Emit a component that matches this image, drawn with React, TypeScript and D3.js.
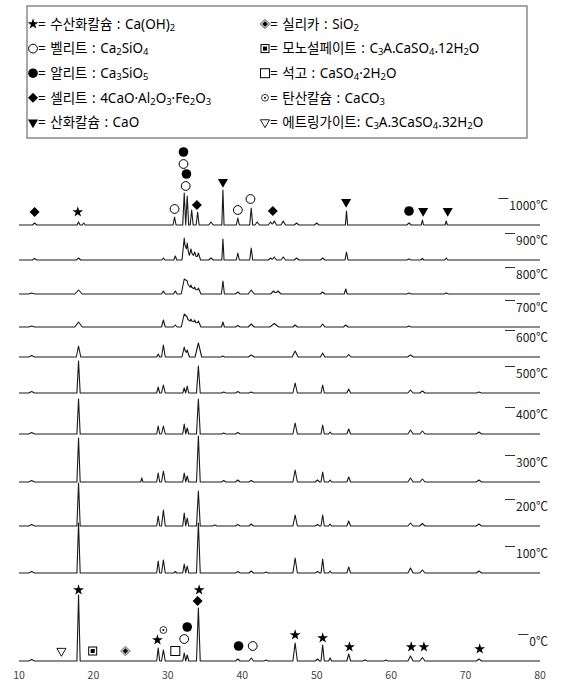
import React, { useRef, useEffect } from "react";
import * as d3 from "d3";

// stacked XRD patterns, 2theta 10..80
const temps = [0, 100, 200, 300, 400, 500, 600, 700, 800, 900, 1000];
const offsets = [0, 88, 135, 179, 227, 268, 304, 334, 367, 401, 436];
const xTicks = [10, 20, 30, 40, 50, 60, 70, 80];

// [angle, height, half width]
const peaks0 = [[11.7, 1.5, 0.4], [18.0, 66, 0.22], [28.7, 13, 0.2], [29.4, 11, 0.25], [32.2, 8, 0.2], [32.6, 6, 0.2], [34.1, 53, 0.25], [39.4, 2, 0.3], [41.2, 3, 0.3], [43.2, 1, 0.3], [47.1, 18, 0.3], [50.1, 2, 0.3], [50.8, 16, 0.22], [51.8, 3, 0.2], [54.3, 7, 0.25], [56.5, 1, 0.3], [59.3, 1, 0.3], [62.6, 5, 0.35], [64.2, 3.5, 0.35], [71.8, 2, 0.35]];
const peaks100 = [[11.7, 1.5, 0.4], [18.0, 50, 0.22], [28.7, 12, 0.2], [29.4, 13, 0.25], [31.0, 1.5, 0.2], [32.2, 9, 0.2], [32.6, 7, 0.2], [34.1, 50, 0.25], [39.4, 1.5, 0.3], [41.2, 2, 0.3], [43.2, 1, 0.3], [47.1, 15, 0.3], [50.1, 1.5, 0.3], [50.8, 14, 0.22], [51.8, 2, 0.2], [54.3, 6, 0.25], [62.6, 5, 0.35], [64.2, 3, 0.35], [71.8, 2, 0.35]];
const peaks200 = [[11.7, 1.5, 0.4], [18.0, 43, 0.22], [28.7, 10, 0.2], [29.4, 16, 0.25], [32.2, 13, 0.2], [32.6, 8, 0.2], [34.1, 35, 0.25], [36.3, 1, 0.3], [39.4, 1.5, 0.3], [41.2, 2, 0.3], [47.1, 11, 0.3], [50.1, 1.5, 0.3], [50.8, 11, 0.22], [51.8, 2, 0.2], [54.3, 5, 0.25], [62.6, 3, 0.35], [64.2, 2.5, 0.35], [71.8, 2, 0.35]];
const peaks300 = [[11.7, 1.5, 0.4], [18.0, 44, 0.22], [26.5, 4, 0.15], [28.7, 9, 0.2], [29.4, 11, 0.25], [32.2, 9, 0.2], [32.6, 6, 0.2], [34.1, 46, 0.25], [37.5, 1.5, 0.3], [39.4, 2, 0.3], [41.2, 1.5, 0.3], [47.1, 12, 0.3], [50.1, 2, 0.3], [50.8, 10, 0.22], [51.8, 2, 0.2], [54.3, 5, 0.25], [62.6, 4, 0.35], [64.2, 3, 0.35], [71.8, 2, 0.35]];
const peaks400 = [[11.7, 1.5, 0.4], [18.0, 35, 0.22], [28.7, 8, 0.2], [29.4, 8, 0.25], [32.2, 10, 0.2], [32.6, 6, 0.2], [34.1, 35, 0.25], [37.5, 1, 0.3], [39.4, 1.5, 0.3], [47.1, 11, 0.3], [50.8, 9, 0.22], [51.8, 2, 0.2], [54.3, 5, 0.25], [62.6, 4, 0.35], [64.2, 3, 0.35], [71.8, 2, 0.35]];
const peaks500 = [[11.7, 1.5, 0.4], [18.0, 32, 0.22], [28.7, 6, 0.2], [29.4, 8, 0.25], [32.2, 5, 0.2], [32.6, 7, 0.2], [34.1, 27, 0.25], [37.5, 1, 0.3], [39.4, 1.5, 0.3], [41.2, 1, 0.3], [47.1, 10, 0.3], [50.8, 8, 0.22], [54.3, 4, 0.25], [62.6, 3, 0.35], [64.2, 2, 0.35], [71.8, 1, 0.35]];
const peaks600 = [[11.7, 1.5, 0.4], [18.0, 11, 0.3], [28.7, 3, 0.2], [29.4, 12, 0.25], [32.2, 10, 0.3], [32.6, 7, 0.3], [34.1, 14, 0.45], [37.4, 1, 0.25], [41.2, 2, 0.4], [47.1, 6, 0.4], [50.8, 4, 0.3], [54.3, 2.5, 0.3], [62.6, 2, 0.4]];
const peaks700 = [[11.7, 1, 0.4], [18.0, 5, 0.5], [29.4, 7, 0.25], [31.0, 2, 0.25], [32.2, 13, 0.4], [32.6, 10, 0.4], [33.1, 8, 0.4], [33.6, 7, 0.4], [34.1, 6, 0.35], [37.4, 5, 0.2], [39.4, 1.5, 0.3], [41.2, 3, 0.4], [44.3, 3.5, 0.6], [47.1, 2, 0.3], [50.8, 3, 0.3], [53.9, 2, 0.3], [62.4, 1, 0.3]];
const peaks800 = [[11.7, 1, 0.4], [18.0, 4, 0.5], [29.4, 3, 0.25], [31.0, 3, 0.25], [32.2, 15, 0.4], [32.6, 13, 0.4], [33.1, 9, 0.4], [33.6, 7, 0.4], [34.1, 6, 0.35], [37.4, 13, 0.2], [39.4, 2, 0.3], [41.2, 4, 0.4], [44.2, 3, 0.4], [44.8, 3, 0.4], [50.8, 2, 0.3], [53.9, 5, 0.2], [62.4, 1, 0.3], [67.4, 1, 0.3]];
const peaks900 = [[12.1, 1.5, 0.3], [18.0, 2, 0.3], [29.4, 2, 0.2], [31.0, 4, 0.2], [32.2, 22, 0.3], [32.6, 17, 0.3], [33.1, 11, 0.35], [33.6, 8, 0.35], [34.1, 7, 0.3], [35.8, 2, 0.3], [37.4, 21, 0.15], [39.4, 7, 0.2], [41.2, 12, 0.2], [43.8, 2, 0.3], [44.3, 3, 0.3], [45.5, 3, 0.3], [47.3, 2, 0.3], [50.8, 2, 0.3], [54.0, 8, 0.2], [62.4, 1, 0.3], [64.2, 1.5, 0.2], [67.4, 2, 0.2]];
const peaks1000 = [[12.1, 2, 0.3], [18.0, 3, 0.2], [18.7, 2, 0.2], [30.9, 8, 0.2], [32.2, 32, 0.2], [32.6, 29, 0.2], [33.2, 15, 0.2], [34.0, 13, 0.2], [35.8, 3, 0.3], [37.4, 35, 0.15], [39.4, 7, 0.2], [41.2, 17, 0.2], [42.0, 3, 0.3], [43.8, 3, 0.3], [44.3, 4, 0.3], [45.5, 4, 0.3], [47.3, 2, 0.3], [50.0, 2, 0.3], [54.0, 14, 0.15], [62.4, 2, 0.3], [64.2, 5, 0.15], [67.4, 4, 0.15]];
const allPeaks = [peaks0, peaks100, peaks200, peaks300, peaks400, peaks500, peaks600, peaks700, peaks800, peaks900, peaks1000];

// phase marks: [angle, height above the pattern's baseline, phase]
const marks0 = [[15.7, 10, "ett"], [19.9, 10, "mono"], [24.3, 10, "silica"], [18.0, 71, "star"], [28.6, 21, "star"], [29.4, 31, "calc"], [31.0, 10, "gyp"], [32.2, 22, "open"], [32.6, 34, "fill"], [34.0, 60, "dia"], [34.2, 71, "star"], [39.5, 15, "fill"], [41.4, 15, "open"], [47.1, 26, "star"], [50.8, 23, "star"], [54.4, 14, "star"], [62.7, 14, "star"], [64.4, 14, "star"], [71.9, 12, "star"]];
const marks1000 = [[12.1, 13, "dia"], [17.9, 13, "star"], [30.9, 16, "open"], [32.4, 39, "open"], [32.5, 51, "fill"], [32.1, 61, "open"], [32.1, 73, "fill"], [33.9, 20, "dia"], [37.4, 43, "tri"], [39.4, 15, "open"], [41.1, 26, "open"], [44.1, 14, "dia"], [53.95, 23, "tri"], [62.4, 14, "fill"], [64.3, 14, "tri"], [67.6, 14, "tri"]];

const legendLeft = [["star", "= 수산화칼슘 : Ca(OH)_2"], ["open", "= 벨리트 : Ca_2SiO_4"], ["fill", "= 알리트 : Ca_3SiO_5"], ["dia", "= 셀리트 : 4CaO·Al_2O_3·Fe_2O_3"], ["tri", "= 산화칼슘 : CaO"]];
const legendRight = [["silica", "= 실리카 : SiO_2"], ["mono", "= 모노설페이트 : C_3A.CaSO_4.12H_2O"], ["gyp", "= 석고 : CaSO_4·2H_2O"], ["calc", "= 탄산칼슘 : CaCO_3"], ["ett", "= 에트링가이트: C_3A.3CaSO_4.32H_2O"]];

const FONT = "'Noto Sans CJK KR', 'Noto Sans', sans-serif";
const LEGEND_FONT = "'Noto Sans', 'Noto Sans CJK KR', sans-serif";

function drawMark(g, type, x, y) {
  const sym = (t, size) => d3.symbol().type(t).size(size)();
  if (type === "star") {
    g.append("path").attr("d", sym(d3.symbolStar, 36)).attr("transform", `translate(${x},${y})`).attr("fill", "#000");
  } else if (type === "open") {
    g.append("circle").attr("cx", x).attr("cy", y).attr("r", 4.4).attr("fill", "#fff").attr("stroke", "#000").attr("stroke-width", 1);
  } else if (type === "fill") {
    g.append("circle").attr("cx", x).attr("cy", y).attr("r", 4.8).attr("fill", "#000");
  } else if (type === "dia") {
    g.append("path").attr("d", sym(d3.symbolDiamond2, 64)).attr("transform", `translate(${x},${y})`).attr("fill", "#000");
  } else if (type === "tri") {
    g.append("path").attr("d", sym(d3.symbolTriangle, 44)).attr("transform", `translate(${x},${y}) rotate(180)`).attr("fill", "#000");
  } else if (type === "ett") {
    g.append("path").attr("d", sym(d3.symbolTriangle, 36)).attr("transform", `translate(${x},${y}) rotate(180)`).attr("fill", "#fff").attr("stroke", "#000").attr("stroke-width", 0.9);
  } else if (type === "mono") {
    g.append("rect").attr("x", x - 4).attr("y", y - 4).attr("width", 8).attr("height", 8).attr("fill", "#fff").attr("stroke", "#000").attr("stroke-width", 1);
    g.append("rect").attr("x", x - 2).attr("y", y - 2).attr("width", 4).attr("height", 4).attr("fill", "#000");
  } else if (type === "gyp") {
    g.append("rect").attr("x", x - 4.5).attr("y", y - 4.5).attr("width", 9).attr("height", 9).attr("fill", "#fff").attr("stroke", "#000").attr("stroke-width", 1);
  } else if (type === "silica") {
    g.append("path").attr("d", sym(d3.symbolDiamond2, 60)).attr("transform", `translate(${x},${y})`).attr("fill", "#bbb").attr("stroke", "#666").attr("stroke-width", 0.8);
    g.append("path").attr("d", sym(d3.symbolDiamond2, 18)).attr("transform", `translate(${x},${y})`).attr("fill", "#000");
  } else if (type === "calc") {
    g.append("circle").attr("cx", x).attr("cy", y).attr("r", 3.4).attr("fill", "#fff").attr("stroke", "#000").attr("stroke-width", 0.8);
    g.append("circle").attr("cx", x).attr("cy", y).attr("r", 1).attr("fill", "#000");
  }
}

function richText(sel, str, size) {
  const parts = str.split(/(_\d+)/).filter((s) => s !== "");
  parts.forEach((p) => {
    if (p[0] === "_") {
      sel.append("tspan").attr("font-size", size * 0.7).attr("baseline-shift", "-25%").text(p.slice(1));
    } else {
      sel.append("tspan").attr("font-size", size).text(p);
    }
  });
}

const App = () => {
  const svgRef = useRef(null);

  useEffect(() => {
    const svg = d3.select(svgRef.current);
    svg.selectAll("*").remove();

    const x = d3.scaleLinear().domain([10, 80]).range([19, 540]);
    const y = d3.scaleLinear().domain([0, 100]).range([661, 561]);

    // legend box
    svg.append("rect").attr("x", 27).attr("y", 6).attr("width", 500).attr("height", 132)
      .attr("fill", "#fff").attr("stroke", "#8a8a8a").attr("stroke-width", 1.5);
    const leg = svg.append("g").attr("font-family", LEGEND_FONT).attr("fill", "#000");
    [[legendLeft, 33], [legendRight, 265]].forEach(([items, lx]) => {
      items.forEach(([type, label], i) => {
        const cy = 24 + i * 24.6;
        drawMark(leg, type, lx, cy);
        const t = leg.append("text").attr("x", lx + 5).attr("y", cy + 4.7).attr("word-spacing", 1);
        richText(t, label, 13.5);
      });
    });

    // patterns
    const line = d3.line().x((d) => x(d[0])).y((d) => d[1]);
    allPeaks.forEach((peaks, i) => {
      const xs = new Set([10, 80]);
      peaks.forEach(([a, h, w]) => { xs.add(a - w); xs.add(a); xs.add(a + w); });
      const pts = Array.from(xs).sort((p, q) => p - q).map((v) => {
        const s = d3.sum(peaks, ([a, h, w]) => Math.max(0, h * (1 - Math.abs(v - a) / w)));
        return [v, y(offsets[i] + s)];
      });
      svg.append("path").attr("d", line(pts)).attr("fill", "none").attr("stroke", "#1a1a1a").attr("stroke-width", 1.1).attr("stroke-linejoin", "round");

      const lab = svg.append("text").attr("x", 548).attr("y", y(offsets[i]) - 15.5)
        .attr("text-anchor", "end").attr("font-family", FONT).attr("font-size", 12).attr("fill", "#222")
        .text(`${temps[i]}℃`);
      const bb = lab.node().getBBox();
      svg.append("line").attr("x1", bb.x - 11).attr("x2", bb.x - 1).attr("y1", bb.y + 3).attr("y2", bb.y + 3)
        .attr("stroke", "#333").attr("stroke-width", 1);
    });

    // phase marks
    const mk = svg.append("g");
    marks0.forEach(([a, h, t]) => drawMark(mk, t, x(a), y(offsets[0] + h)));
    marks1000.forEach(([a, h, t]) => drawMark(mk, t, x(a), y(offsets[10] + h)));

    // x tick labels
    svg.append("g").selectAll("text").data(xTicks).join("text")
      .attr("x", (d) => x(d)).attr("y", 679).attr("text-anchor", "middle")
      .attr("font-family", FONT).attr("font-size", 10.5).attr("fill", "#444")
      .text((d) => d);
  }, []);

  return (
    <svg ref={svgRef} width={563} height={683} style={{ position: "absolute", left: 0, top: 0, background: "#fff" }} />
  );
};

export default App;
